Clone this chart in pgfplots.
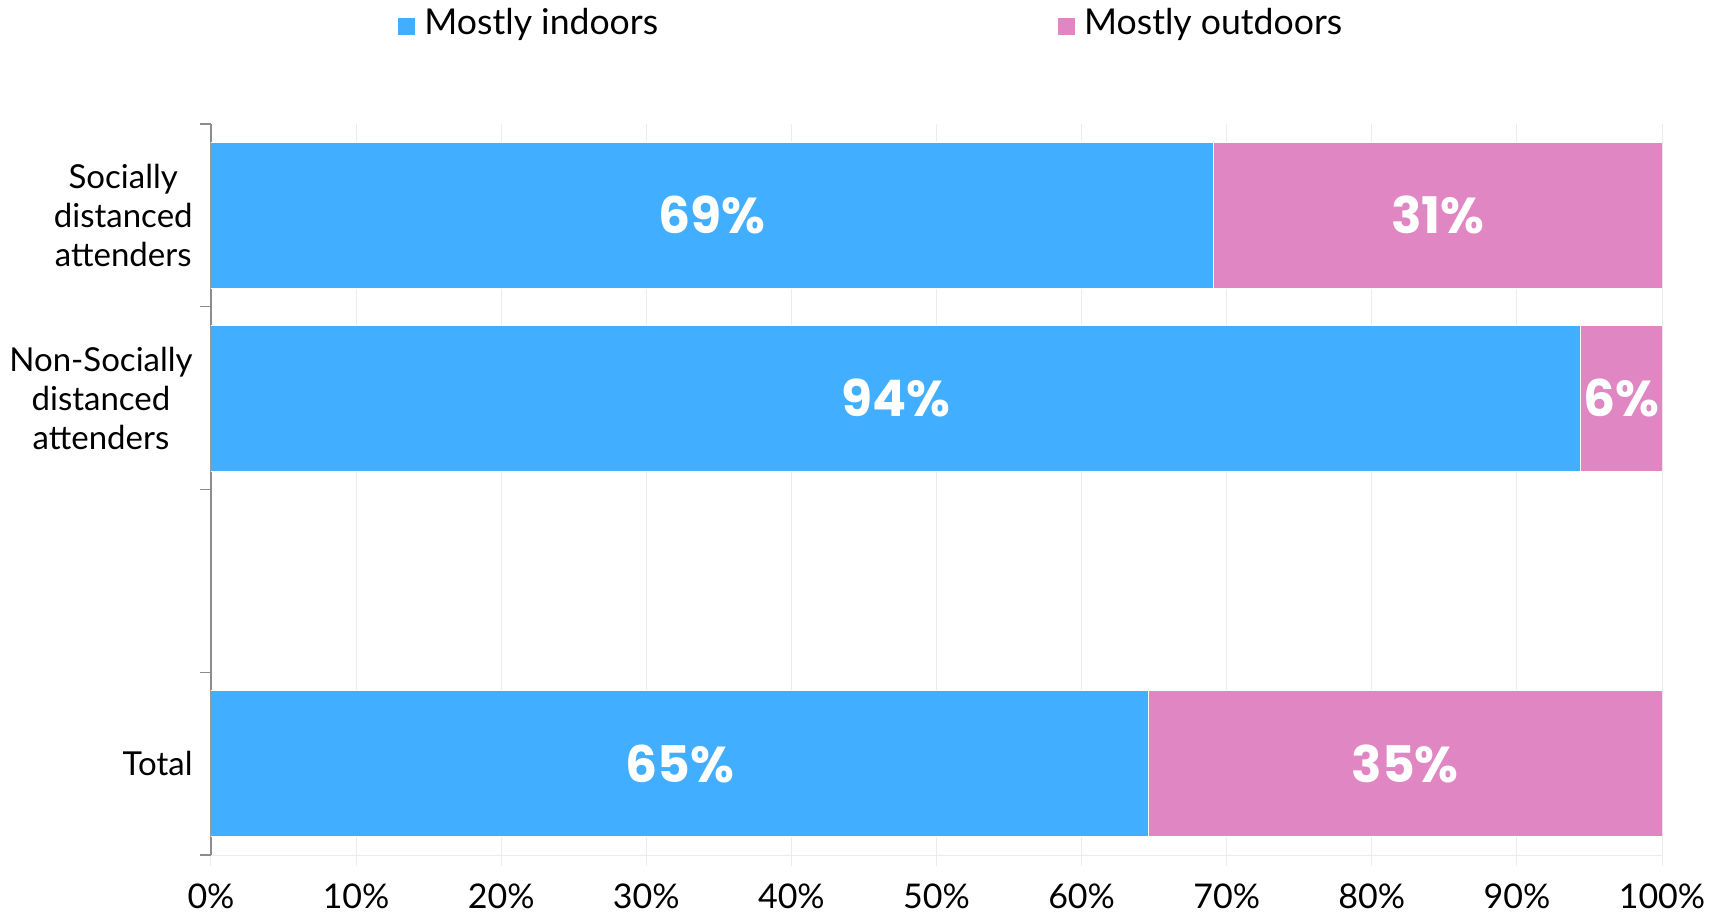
\documentclass[border=0pt]{standalone}
\usepackage{fontspec}
\setmainfont{Lato}
\newfontfamily\numfont{Poppins}
\usepackage{pgfplots}
\usepackage{pgfplotstable}
\pgfplotsset{compat=1.18}

\definecolor{indoor}{RGB}{66,174,255}
\definecolor{outdoor}{RGB}{224,134,194}
\definecolor{gridc}{RGB}{236,236,236}
\definecolor{axc}{RGB}{140,140,140}

% y: 0 = Socially distanced, 1 = Non-Socially distanced, 2 = (empty), 3 = Total
\pgfplotstableread{
y  v
0  69.1
1  94.4
3  64.6
}\indoors
\pgfplotstableread{
y  v
0  30.9
1  5.6
3  35.4
}\outdoors

\begin{document}
\begin{tikzpicture}
\begin{axis}[
    name=ax,
    scale only axis,
    width=725.5pt, height=365.6pt,
    xbar stacked,
    bar width=0.8,
    y dir=reverse,
    xmin=0, xmax=100,
    ymin=-0.5, ymax=3.5,
    axis x line*=bottom,
    axis y line*=left,
    x axis line style={draw=gridc, line width=0.5pt},
    y axis line style={draw=axc, line width=0.7pt},
    tick align=outside,
    major tick length=5.5pt,
    xtick={0,10,...,100},
    xticklabel={\pgfmathprintnumber{\tick}\%},
    /pgf/number format/assume math mode=true,
    xmajorgrids,
    major x grid style={draw=gridc, line width=0.5pt},
    x tick style={draw=gridc, line width=0.5pt},
    xticklabel style={font=\fontsize{17}{20}\selectfont, anchor=north, inner sep=0pt, yshift=-8.5pt},
    ytick={0,1,3},
    yticklabels={{Socially\\distanced\\attenders},{Non-Socially\\distanced\\attenders},{Total}},
    y tick style={draw=none},
    yticklabel style={font=\fontsize{16.5}{19.4}\selectfont, align=center, anchor=east, inner sep=0pt, xshift=-3.5pt},
    extra y ticks={-0.5,0.5,1.5,2.5,3.5},
    extra y tick labels={},
    extra y tick style={y tick style={draw=axc, line width=0.7pt}},
    % value labels, centred in each segment
    nodes near coords={\pgfmathprintnumber[fixed,precision=0]{\rawx}\%},
    visualization depends on=rawx \as \rawx,
    every node near coord/.append style={anchor=center, inner sep=0pt, text=white,
        font=\numfont\bfseries\fontsize{25.2}{28}\selectfont},
    legend columns=2,
    legend cell align=left,
    legend style={at={(0.1289,1.159)}, anchor=north west, draw=none, fill=none,
        inner sep=0pt, font=\fontsize{17.8}{20}\selectfont,
        nodes={inner sep=0pt},
        /tikz/every odd column/.append style={column sep=4.5pt},
        /tikz/every even column/.append style={column sep=200pt}},
    legend image code/.code={\fill[#1, draw=none] (0pt,-6pt) rectangle (8.5pt,2.5pt);},
]
\addplot[fill=indoor, draw=white, line width=0.5pt] table[x=v, y=y] {\indoors};
\addlegendentry{Mostly indoors}
\addplot[fill=outdoor, draw=white, line width=0.5pt] table[x=v, y=y] {\outdoors};
\addlegendentry{Mostly outdoors}
\end{axis}
\pgfresetboundingbox
\path ([shift={(-105.5pt,-28.5pt)}]ax.south west) rectangle ([shift={(23.5pt,62pt)}]ax.north east);
\end{tikzpicture}
\end{document}
